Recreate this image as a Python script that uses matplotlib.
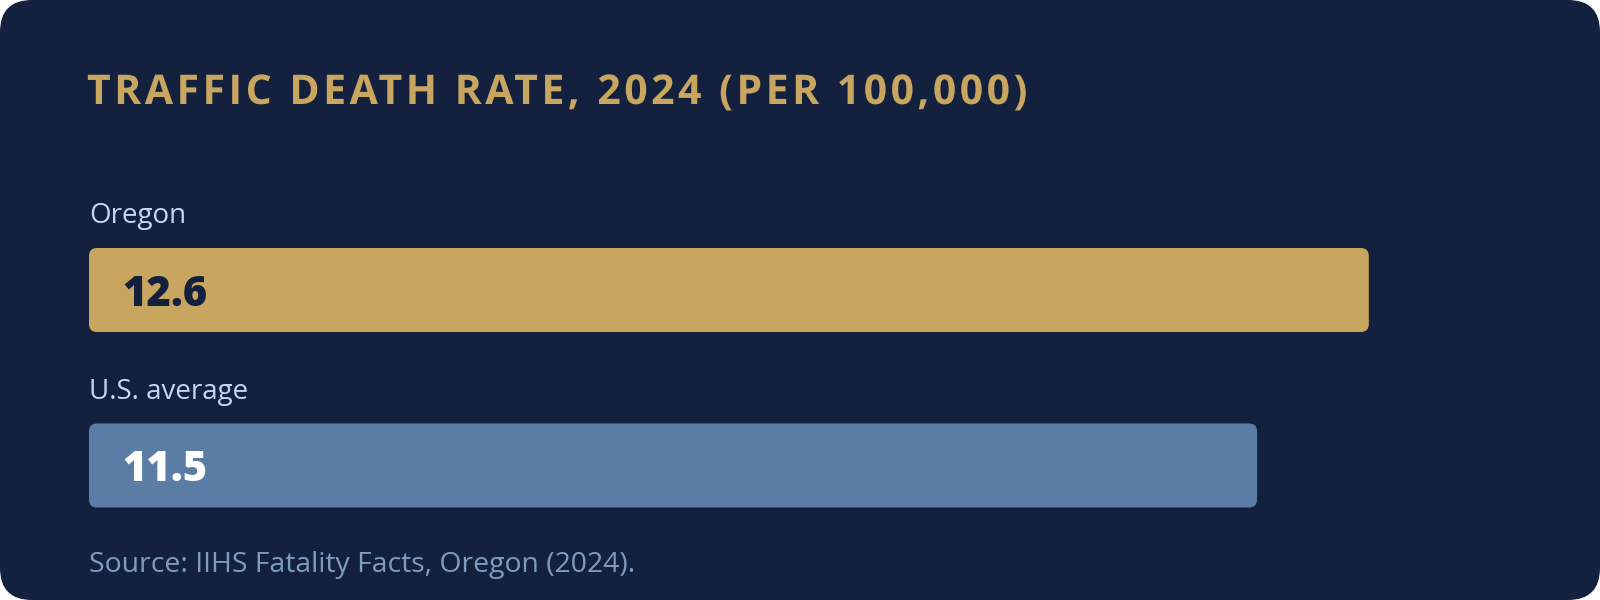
import matplotlib
matplotlib.use("Agg")
import numpy as np
import matplotlib.pyplot as plt
import matplotlib.transforms as mtransforms
from matplotlib.patches import FancyBboxPatch
from matplotlib.path import Path
from matplotlib.patheffects import AbstractPathEffect
from matplotlib.textpath import text_to_path

# ---- data ----
categories = ["Oregon", "U.S. average"]
values = [12.6, 11.5]
scale_max = 14
title = "TRAFFIC DEATH RATE, 2024 (PER 100,000)"
source = "Source: IIHS Fatality Facts, Oregon (2024)."

# ---- style ----
BG = "#13213E"
GOLD = "#C9A660"
BAR_COLORS = ["#C9A660", "#5B7CA5"]
VALUE_COLORS = ["#13213E", "#FFFFFF"]
LABEL_COLOR = "#C9D6EE"
SOURCE_COLOR = "#7E9BC0"
FONT = ["Open Sans", "DejaVu Sans"]


class LetterSpacing(AbstractPathEffect):
    """Adds a fixed gap (in pixels) after every character of a text."""

    def __init__(self, text, prop, spacing_px):
        super().__init__()
        self.text = text
        self.prop = prop
        self.spacing_px = spacing_px

    def draw_path(self, renderer, gc, tpath, affine, rgbFace=None):
        try:
            font = text_to_path._get_font(self.prop)
            info, _, _ = text_to_path.get_glyphs_with_font(font, self.text)
            xpos = np.array([g[1] for g in info], dtype=float)
            sx = affine.get_matrix()[0, 0]
            gap = self.spacing_px / sx
            verts = np.array(tpath.vertices, dtype=float).copy()
            codes = np.asarray(tpath.codes)
            starts = list(np.where(codes == Path.MOVETO)[0]) + [len(codes)]
            for a, b in zip(starts[:-1], starts[1:]):
                seg = verts[a:b]
                keep = codes[a:b] != Path.CLOSEPOLY
                if not keep.any():
                    continue
                cx = 0.5 * (seg[keep, 0].min() + seg[keep, 0].max())
                idx = max(int(np.searchsorted(xpos, cx, side="right")) - 1, 0)
                verts[a:b, 0] += idx * gap
            renderer.draw_path(gc, Path(verts, codes), affine, rgbFace)
        except Exception:
            renderer.draw_path(gc, tpath, affine, rgbFace)


W, H = 1600, 600
fig = plt.figure(figsize=(W / 100, H / 100), dpi=100)
fig.patch.set_facecolor("white")

# background card in pixel coordinates
bg = fig.add_axes([0, 0, 1, 1])
bg.set_xlim(0, W)
bg.set_ylim(H, 0)
bg.axis("off")
bg.add_patch(FancyBboxPatch((0, 0), W, H, boxstyle="round,pad=0,rounding_size=32",
                            fc=BG, ec="none"))

ttl = bg.text(87, 104, title, fontsize=29.5, fontweight="bold", family=FONT,
              color=GOLD, ha="left", va="baseline")
ttl.set_path_effects([LetterSpacing(title, ttl.get_fontproperties(), 3.5)])

bg.text(89, 572, source, fontsize=20.4, family=FONT, color=SOURCE_COLOR,
        ha="left", va="baseline")

# bar axes
n = len(categories)
px_top = 248
bar_h_px = 84
gap_px = 175.5
left_px = 89
width_px = 1422
ax_h_px = gap_px * (n - 1) + bar_h_px
ax = fig.add_axes([left_px / W, 1 - (px_top + ax_h_px) / H, width_px / W, ax_h_px / H])
ax.set_facecolor("none")
ax.set_xlim(0, scale_max)
h = bar_h_px / gap_px
ax.set_ylim(n - 1 + h / 2, -h / 2)
ax.axis("off")

bars = ax.barh(range(n), values, height=h, color=BAR_COLORS)
x_per_px = scale_max / width_px
y_per_px = 1 / gap_px
radius = 8 * x_per_px
aspect = y_per_px / x_per_px
for bar, col in zip(bars, BAR_COLORS):
    x0, y0 = bar.get_x(), bar.get_y()
    bw, bh = bar.get_width(), bar.get_height()
    bar.set_visible(False)
    ax.add_patch(FancyBboxPatch((x0, y0), bw, bh,
                                boxstyle=f"round,pad=0,rounding_size={radius}",
                                mutation_aspect=aspect, fc=col, ec="none"))

for i, (cat, v) in enumerate(zip(categories, values)):
    tr_val = mtransforms.offset_copy(ax.transData, fig=fig, x=33, y=-15.5, units="dots")
    ax.text(0, i, f"{v:.1f}", transform=tr_val, fontsize=30, fontweight=800,
            family=FONT, color=VALUE_COLORS[i], ha="left", va="baseline")
    tr_lab = mtransforms.offset_copy(ax.transData, fig=fig, x=0, y=24.5, units="dots")
    ax.text(0, i - h / 2, cat, transform=tr_lab, fontsize=20, family=FONT,
            color=LABEL_COLOR, ha="left", va="baseline")

fig.savefig("out.png", dpi=100, facecolor=fig.get_facecolor())
